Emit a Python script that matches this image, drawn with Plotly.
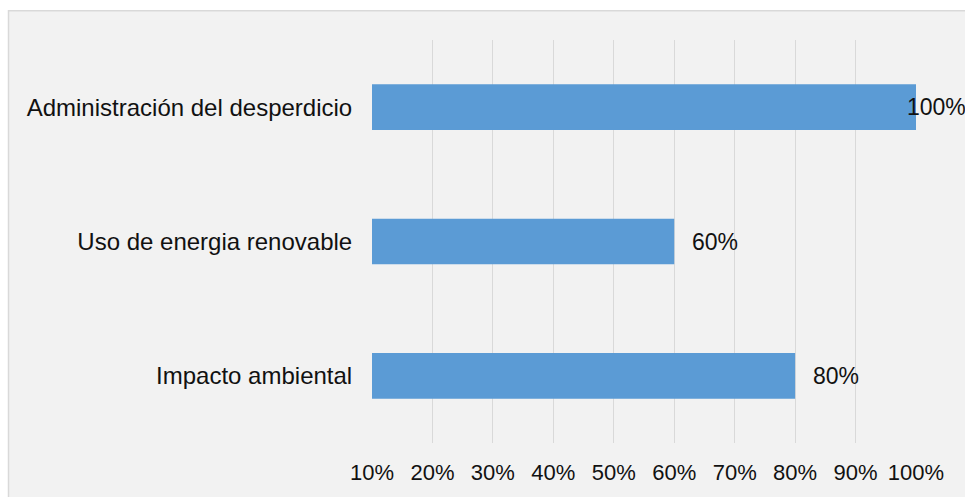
import plotly.graph_objects as go

categories = ["Administración del desperdicio", "Uso de energia renovable", "Impacto ambiental"]
values = [100, 60, 80]
tick_values = [10, 20, 30, 40, 50, 60, 70, 80, 90, 100]
tick_labels = ["10%", "20%", "30%", "40%", "50%", "60%", "70%", "80%", "90%", "100%"]

W, H = 965, 497
L, R, T, B = 372, 49, 40, 52
pw, ph = W - L - R, H - T - B

FONT = "Liberation Sans, Arial, sans-serif"
TXT = "#111111"

fig = go.Figure()
fig.add_trace(go.Bar(
    y=categories, x=values, orientation="h",
    marker=dict(color="#5b9bd5", line=dict(width=0)),
    width=0.34, hoverinfo="skip",
))

xmax = max(tick_values)
for c, v in zip(categories, values):
    fig.add_annotation(
        x=v, y=c, xref="x", yref="y", text=f"{v}%", showarrow=False,
        xanchor="left", xshift=16 if v < xmax else -11,
        font=dict(family=FONT, size=23, color=TXT),
    )

# outer chart-area box
def px2paper_x(px):
    return (px - L) / pw

def px2paper_y(py):
    return (H - B - py) / ph

fig.add_shape(type="rect", xref="paper", yref="paper",
              x0=px2paper_x(8.5), x1=px2paper_x(W + 10),
              y0=px2paper_y(H + 10), y1=px2paper_y(10.5),
              fillcolor="#f2f2f2", line=dict(color="#d9d9d9", width=1.5),
              layer="below")

fig.update_layout(
    width=W, height=H,
    margin=dict(l=L, r=R, t=T, b=B, pad=0),
    paper_bgcolor="white", plot_bgcolor="#f2f2f2",
    showlegend=False,
    font=dict(family=FONT, size=23, color=TXT),
    xaxis=dict(range=[10, 100], tickvals=tick_values, ticktext=tick_labels,
               showgrid=True, gridcolor="#d9d9d9", gridwidth=1,
               zeroline=False, showline=False,
               ticks="outside", ticklen=10, tickcolor="rgba(0,0,0,0)",
               tickfont=dict(family=FONT, size=22, color=TXT), fixedrange=True),
    yaxis=dict(autorange="reversed", showgrid=False, zeroline=False, showline=False,
               ticks="outside", ticklen=14, tickcolor="rgba(0,0,0,0)",
               tickfont=dict(family=FONT, size=24, color=TXT), fixedrange=True),
)

fig.write_html("out.html")
